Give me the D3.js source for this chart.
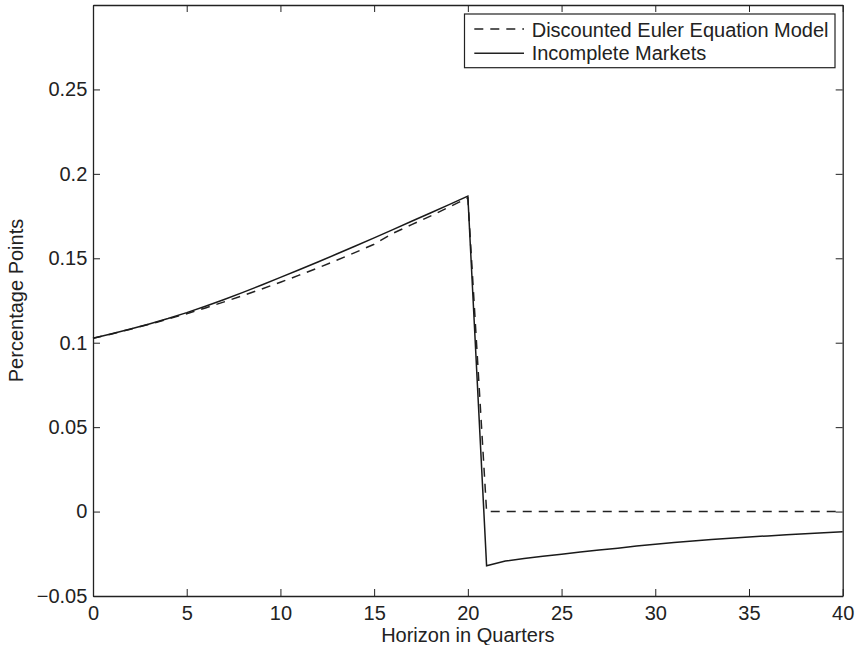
<!DOCTYPE html>
<html>
<head>
<meta charset="utf-8">
<script src="https://cdn.jsdelivr.net/npm/d3@7"></script>
<style>
  html, body { margin: 0; padding: 0; background: #fff; }
  svg { display: block; }
  text { font-family: "Liberation Sans", Arial, Helvetica, sans-serif; fill: #222; }
</style>
</head>
<body>
<svg id="chart" width="856" height="645"></svg>
<script>
// ---- data ----
const horizon = d3.range(0, 41);
const incompleteMarkets = [
  0.1026, 0.1053, 0.1081, 0.1111, 0.1143, 0.1178, 0.1216, 0.1256, 0.1298, 0.1342,
  0.1387, 0.1432, 0.1478, 0.1525, 0.1573, 0.1621, 0.1670, 0.1719, 0.1768, 0.1818,
  0.1868,
  -0.0321, -0.0293, -0.0278, -0.0265, -0.0253, -0.0240, -0.0228, -0.0217, -0.0204,
  -0.0193, -0.0183, -0.0174, -0.0166, -0.0158, -0.0151, -0.0144, -0.0137, -0.0131,
  -0.0125, -0.0119
];
const discountedEuler = [
  0.1026, 0.1052, 0.1080, 0.1109, 0.1140, 0.1172, 0.1206, 0.1242, 0.1279, 0.1318,
  0.1358, 0.1400, 0.1443, 0.1488, 0.1535, 0.1583, 0.1648, 0.1699, 0.1750, 0.1803,
  0.1858,
  0, 0, 0, 0, 0, 0, 0, 0, 0, 0, 0, 0, 0, 0, 0, 0, 0, 0, 0, 0
];
const xTicks = [0, 5, 10, 15, 20, 25, 30, 35, 40];
const yTicks = [-0.05, 0, 0.05, 0.1, 0.15, 0.2, 0.25];
const yTickLabels = ["\u22120.05", "0", "0.05", "0.1", "0.15", "0.2", "0.25"];
const seriesNames = ["Discounted Euler Equation Model", "Incomplete Markets"];
const xLabel = "Horizon in Quarters";
const yLabel = "Percentage Points";

// ---- layout ----
const L = 93, T = 5, R = 842.7, B = 596;
const svg = d3.select("#chart");
const x = d3.scaleLinear().domain([0, 40]).range([L, R]);
const y = d3.scaleLinear().domain([-0.05, 0.3]).range([B, T]);
const axisColor = "#222";
const fs = "20px";

function styleAxis(g) {
  g.selectAll("path.domain").attr("stroke", axisColor).attr("stroke-width", 1.3);
  g.selectAll(".tick line").attr("stroke", axisColor).attr("stroke-width", 1);
  g.selectAll(".tick text").attr("fill", "#222").style("font-size", fs)
    .style("font-family", '"Liberation Sans", Arial, Helvetica, sans-serif');
}

// bottom
svg.append("g").attr("transform", `translate(0,${B})`)
  .call(d3.axisBottom(x).tickValues(xTicks).tickSizeInner(-7).tickSizeOuter(0).tickPadding(9.5)
    .tickFormat(d3.format("d")))
  .call(styleAxis);
// top
svg.append("g").attr("transform", `translate(0,${T})`)
  .call(d3.axisTop(x).tickValues(xTicks).tickSizeInner(-7).tickSizeOuter(0).tickFormat(""))
  .call(styleAxis);
// left
svg.append("g").attr("transform", `translate(${L},0)`)
  .call(d3.axisLeft(y).tickValues(yTicks).tickSizeInner(-7).tickSizeOuter(0).tickPadding(5.7)
    .tickFormat((d, i) => yTickLabels[i]))
  .call(styleAxis);
// right
svg.append("g").attr("transform", `translate(${R},0)`)
  .call(d3.axisRight(y).tickValues(yTicks).tickSizeInner(-7).tickSizeOuter(0).tickFormat(""))
  .call(styleAxis);

// remove end ticks that overlap the frame
svg.selectAll(".tick line").filter(function() {
  const p = this.parentNode.getAttribute("transform");
  return false;
});

// ---- lines ----
const line = d3.line().x((d, i) => x(horizon[i])).y(d => y(d));
svg.append("path").datum(discountedEuler)
  .attr("d", line).attr("fill", "none").attr("stroke", "#222")
  .attr("stroke-width", 1.5).attr("stroke-dasharray", "9,7");
svg.append("path").datum(incompleteMarkets)
  .attr("d", line).attr("fill", "none").attr("stroke", "#1a1a1a")
  .attr("stroke-width", 1.5);

// ---- axis labels ----
svg.append("text").attr("x", (L + R) / 2).attr("y", 642.3)
  .attr("text-anchor", "middle").style("font-size", fs).text(xLabel);
svg.append("text").attr("transform", `translate(22.5,${(T + B) / 2}) rotate(-90)`)
  .attr("text-anchor", "middle").style("font-size", fs).text(yLabel);

// ---- legend ----
const lg = svg.append("g");
lg.append("rect").attr("x", 464.5).attr("y", 14).attr("width", 370.5).attr("height", 53.7)
  .attr("fill", "#fff").attr("stroke", axisColor).attr("stroke-width", 1.2);
const rows = [
  { name: seriesNames[0], dash: "9,7", ly: 29, ty: 37 },
  { name: seriesNames[1], dash: null, ly: 53.3, ty: 60.3 }
];
rows.forEach(r => {
  lg.append("line").attr("x1", 474.3).attr("x2", 524).attr("y1", r.ly).attr("y2", r.ly)
    .attr("stroke", "#222").attr("stroke-width", 1.5)
    .attr("stroke-dasharray", r.dash);
  lg.append("text").attr("x", 531.7).attr("y", r.ty).style("font-size", fs).text(r.name);
});
</script>
</body>
</html>
